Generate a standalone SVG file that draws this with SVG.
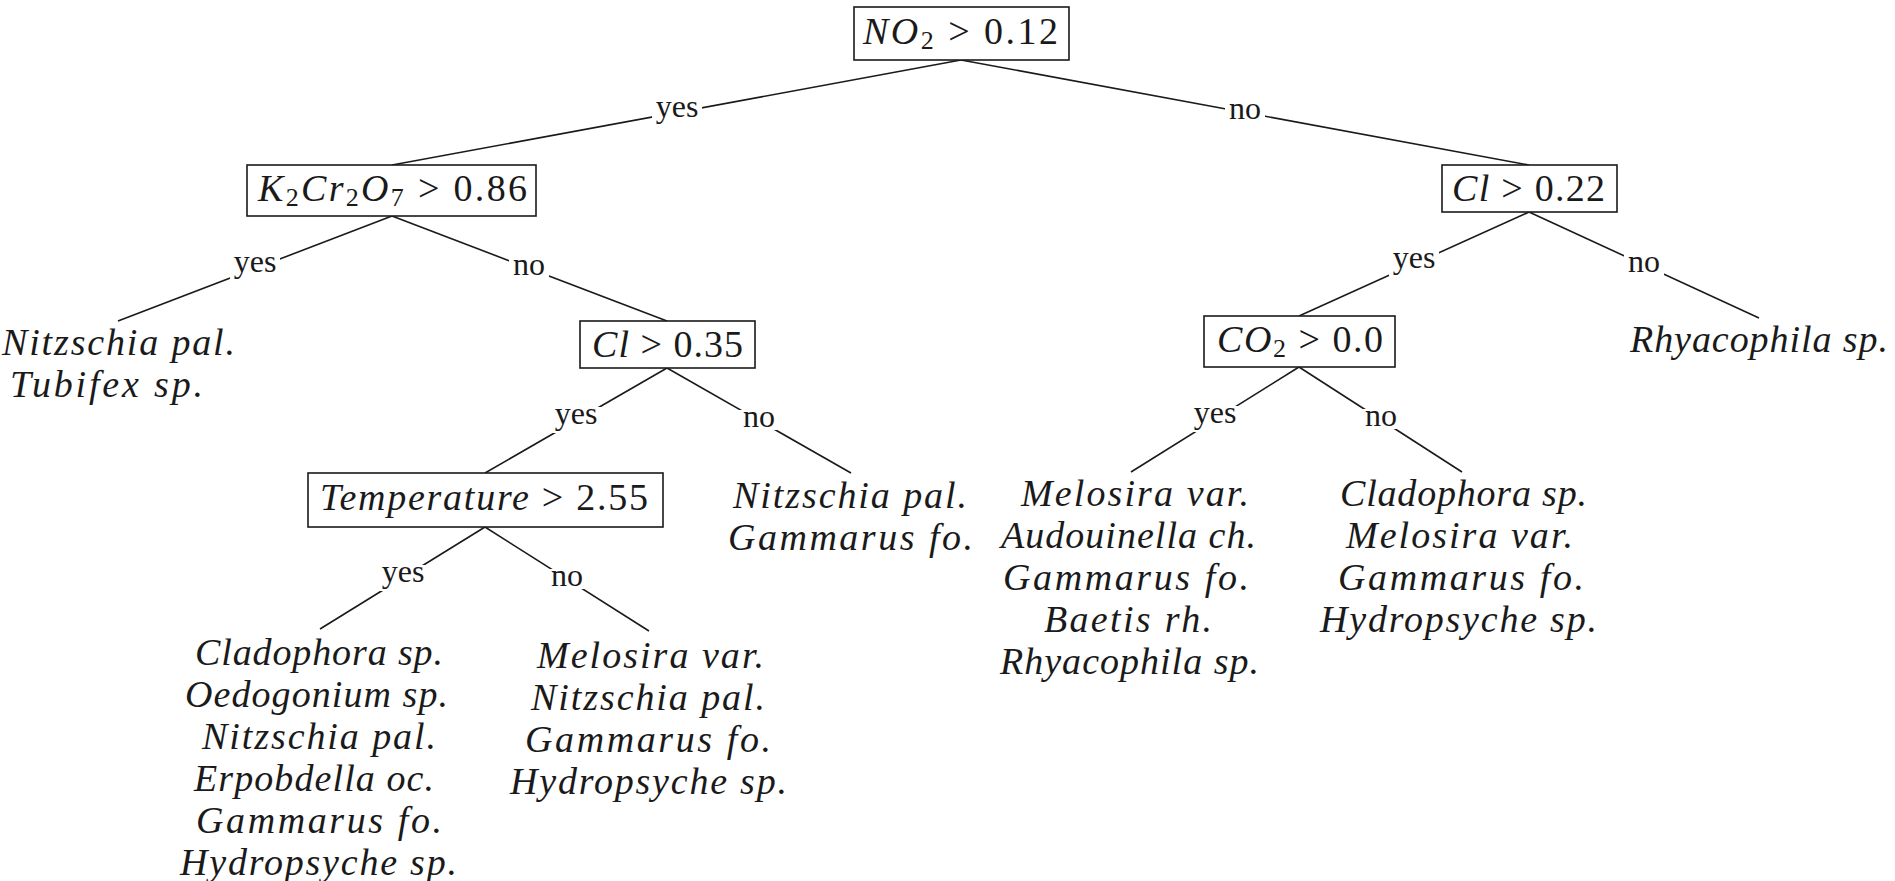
<svg xmlns="http://www.w3.org/2000/svg" width="1895" height="881" viewBox="0 0 1895 881">
  <style>
    .bg { fill: #ffffff; }
    .edge { stroke: #1a1a1a; stroke-width: 1.6; fill: none; }
    .knock { fill: #ffffff; }
    .lbl { font-family: "Liberation Serif", "DejaVu Serif", serif; font-size: 32px; fill: #1a1a1a; text-anchor: middle; }
    .box { fill: #ffffff; stroke: #1a1a1a; stroke-width: 1.6; }
    .cond { font-family: "Liberation Serif", "DejaVu Serif", serif; font-size: 38px; fill: #1a1a1a; }
    .cond .v { font-style: italic; }
    .cond .s { font-size: 26px; }
    .leaf text { font-family: "Liberation Serif", "DejaVu Serif", serif; font-style: italic; font-size: 38px; fill: #1a1a1a; }
  </style>
  <rect class="bg" x="0" y="0" width="1895" height="881"/>

  <!-- tree edges with their yes/no labels (labels knock out the line behind them) -->
  <g id="connectors">
    <line class="edge" x1="961" y1="60" x2="392" y2="165"/>
    <line class="edge" x1="961" y1="60" x2="1529" y2="165"/>
    <line class="edge" x1="392" y1="216" x2="118" y2="321"/>
    <line class="edge" x1="392" y1="216" x2="667" y2="321"/>
    <line class="edge" x1="667" y1="368" x2="485" y2="473"/>
    <line class="edge" x1="667" y1="368" x2="851" y2="473"/>
    <line class="edge" x1="485" y1="527" x2="320" y2="629"/>
    <line class="edge" x1="485" y1="527" x2="649" y2="631"/>
    <line class="edge" x1="1529" y1="212" x2="1299" y2="316"/>
    <line class="edge" x1="1529" y1="212" x2="1759" y2="318"/>
    <line class="edge" x1="1299" y1="367" x2="1131" y2="472"/>
    <line class="edge" x1="1299" y1="367" x2="1462" y2="472"/>

    <rect class="knock" x="652" y="99" width="50" height="26"/>
    <text class="lbl" x="677" y="117">yes</text>
    <rect class="knock" x="1225" y="102" width="40" height="20"/>
    <text class="lbl" x="1245" y="119">no</text>

    <rect class="knock" x="230" y="255" width="50" height="26"/>
    <text class="lbl" x="255" y="272">yes</text>
    <rect class="knock" x="509" y="258" width="40" height="20"/>
    <text class="lbl" x="529" y="275">no</text>

    <rect class="knock" x="551" y="407" width="50" height="26"/>
    <text class="lbl" x="576" y="424">yes</text>
    <rect class="knock" x="739" y="410" width="40" height="20"/>
    <text class="lbl" x="759" y="427">no</text>

    <rect class="knock" x="378" y="565" width="50" height="26"/>
    <text class="lbl" x="403" y="582">yes</text>
    <rect class="knock" x="547" y="569" width="40" height="20"/>
    <text class="lbl" x="567" y="586">no</text>

    <rect class="knock" x="1389" y="251" width="50" height="26"/>
    <text class="lbl" x="1414" y="268">yes</text>
    <rect class="knock" x="1624" y="255" width="40" height="20"/>
    <text class="lbl" x="1644" y="272">no</text>

    <rect class="knock" x="1190" y="406" width="50" height="26"/>
    <text class="lbl" x="1215" y="423">yes</text>
    <rect class="knock" x="1361" y="409" width="40" height="20"/>
    <text class="lbl" x="1381" y="426">no</text>
  </g>

  <!-- decision nodes -->
  <g id="node-no2">
    <rect class="box" x="854" y="7" width="215" height="53"/>
    <text class="cond" x="863" y="44" textLength="195" lengthAdjust="spacing"><tspan class="v">NO</tspan><tspan class="s" dy="5">2</tspan><tspan dy="-5"> &gt; 0.12</tspan></text>
  </g>

  <g id="node-k2cr2o7">
    <rect class="box" x="247" y="165" width="289" height="51"/>
    <text class="cond" x="258" y="201" textLength="269" lengthAdjust="spacing"><tspan class="v">K</tspan><tspan class="s" dy="5">2</tspan><tspan class="v" dy="-5">Cr</tspan><tspan class="s" dy="5">2</tspan><tspan class="v" dy="-5">O</tspan><tspan class="s" dy="5">7</tspan><tspan dy="-5"> &gt; 0.86</tspan></text>
  </g>

  <g id="node-cl-022">
    <rect class="box" x="1442" y="165" width="175" height="47"/>
    <text class="cond" x="1452" y="201" textLength="153" lengthAdjust="spacing"><tspan class="v">Cl</tspan> &gt; 0.22</text>
  </g>

  <g id="node-cl-035">
    <rect class="box" x="580" y="321" width="175" height="47"/>
    <text class="cond" x="592" y="357" textLength="151" lengthAdjust="spacing"><tspan class="v">Cl</tspan> &gt; 0.35</text>
  </g>

  <g id="node-co2">
    <rect class="box" x="1204" y="316" width="191" height="51"/>
    <text class="cond" x="1217" y="352" textLength="166" lengthAdjust="spacing"><tspan class="v">CO</tspan><tspan class="s" dy="5">2</tspan><tspan dy="-5"> &gt; 0.0</tspan></text>
  </g>

  <g id="node-temperature">
    <rect class="box" x="308" y="473" width="355" height="54"/>
    <text class="cond" x="320" y="510" textLength="328" lengthAdjust="spacing"><tspan class="v">Temperature</tspan> &gt; 2.55</text>
  </g>

  <!-- leaves: species lists -->
  <g id="leaf-k2-yes" class="leaf">
    <text x="2" y="355" textLength="233" lengthAdjust="spacing">Nitzschia pal.</text>
    <text x="10" y="397" textLength="193" lengthAdjust="spacing">Tubifex sp.</text>
  </g>

  <g id="leaf-cl035-no" class="leaf">
    <text x="733" y="508" textLength="234" lengthAdjust="spacing">Nitzschia pal.</text>
    <text x="728" y="550" textLength="245" lengthAdjust="spacing">Gammarus fo.</text>
  </g>

  <g id="leaf-temp-yes" class="leaf">
    <text x="195" y="665" textLength="248" lengthAdjust="spacing">Cladophora sp.</text>
    <text x="185" y="707" textLength="263" lengthAdjust="spacing">Oedogonium sp.</text>
    <text x="202" y="749" textLength="234" lengthAdjust="spacing">Nitzschia pal.</text>
    <text x="194" y="791" textLength="240" lengthAdjust="spacing">Erpobdella oc.</text>
    <text x="196" y="833" textLength="246" lengthAdjust="spacing">Gammarus fo.</text>
    <text x="180" y="875" textLength="277" lengthAdjust="spacing">Hydropsyche sp.</text>
  </g>

  <g id="leaf-temp-no" class="leaf">
    <text x="537" y="668" textLength="227" lengthAdjust="spacing">Melosira var.</text>
    <text x="531" y="710" textLength="234" lengthAdjust="spacing">Nitzschia pal.</text>
    <text x="525" y="752" textLength="246" lengthAdjust="spacing">Gammarus fo.</text>
    <text x="510" y="794" textLength="277" lengthAdjust="spacing">Hydropsyche sp.</text>
  </g>

  <g id="leaf-co2-yes" class="leaf">
    <text x="1021" y="506" textLength="228" lengthAdjust="spacing">Melosira var.</text>
    <text x="1001" y="548" textLength="255" lengthAdjust="spacing">Audouinella ch.</text>
    <text x="1003" y="590" textLength="246" lengthAdjust="spacing">Gammarus fo.</text>
    <text x="1044" y="632" textLength="168" lengthAdjust="spacing">Baetis rh.</text>
    <text x="1000" y="674" textLength="259" lengthAdjust="spacing">Rhyacophila sp.</text>
  </g>

  <g id="leaf-co2-no" class="leaf">
    <text x="1340" y="506" textLength="247" lengthAdjust="spacing">Cladophora sp.</text>
    <text x="1346" y="548" textLength="227" lengthAdjust="spacing">Melosira var.</text>
    <text x="1338" y="590" textLength="246" lengthAdjust="spacing">Gammarus fo.</text>
    <text x="1320" y="632" textLength="277" lengthAdjust="spacing">Hydropsyche sp.</text>
  </g>

  <g id="leaf-cl022-no" class="leaf">
    <text x="1630" y="352" textLength="258" lengthAdjust="spacing">Rhyacophila sp.</text>
  </g>
</svg>
